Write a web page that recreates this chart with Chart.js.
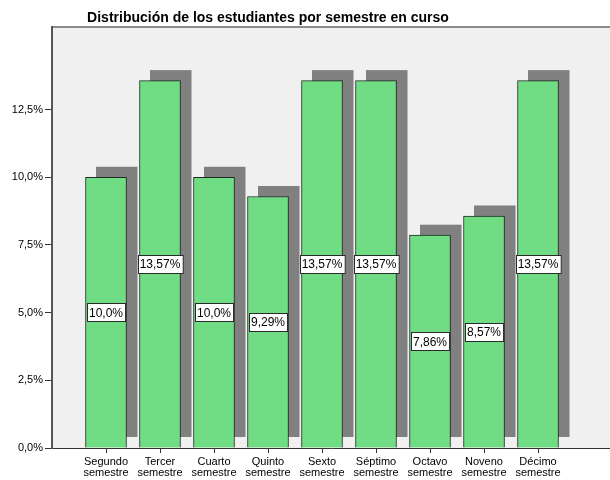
<!DOCTYPE html>
<html>
<head>
<meta charset="utf-8">
<script src="https://cdn.jsdelivr.net/npm/chart.js@4.4.0/dist/chart.umd.min.js"></script>
<style>
  html, body { margin: 0; padding: 0; background: #fff; }
  #wrap { width: 610px; height: 480px; }
</style>
</head>
<body>
<div id="wrap"><canvas id="chart" width="610" height="480"></canvas></div>
<script>
// datos del gráfico
const titulo = 'Distribución de los estudiantes por semestre en curso';
const semestres = [
    ['Segundo', 'semestre'], ['Tercer', 'semestre'], ['Cuarto', 'semestre'],
    ['Quinto', 'semestre'], ['Sexto', 'semestre'], ['Séptimo', 'semestre'],
    ['Octavo', 'semestre'], ['Noveno', 'semestre'], ['Décimo', 'semestre']
];
const porcentajes = [10.0, 13.57, 10.0, 9.29, 13.57, 13.57, 7.86, 8.57, 13.57];
const etiquetas = ['10,0%', '13,57%', '10,0%', '9,29%', '13,57%', '13,57%', '7,86%', '8,57%', '13,57%'];
const ticksY = [0, 2.5, 5, 7.5, 10, 12.5];

const fuente = '"Liberation Sans", Arial, sans-serif';

// fondo gris del área y borde superior
const fondoPlugin = {
    id: 'fondo',
    beforeDraw(chart) {
        const {ctx, chartArea: a} = chart;
        ctx.save();
        ctx.fillStyle = '#f0f0f0';
        ctx.fillRect(a.left, a.top, a.right - a.left, a.bottom - a.top);
        ctx.strokeStyle = '#8a8a8a';
        ctx.lineWidth = 2;
        ctx.beginPath();
        ctx.moveTo(a.left, a.top);
        ctx.lineTo(a.right, a.top);
        ctx.stroke();
        ctx.restore();
    }
};

// sombras grises detrás de las barras
const sombraPlugin = {
    id: 'sombra',
    beforeDatasetsDraw(chart) {
        const ctx = chart.ctx;
        const meta = chart.getDatasetMeta(0);
        ctx.save();
        ctx.fillStyle = '#808080';
        meta.data.forEach((bar) => {
            const w = bar.width;
            ctx.fillRect(bar.x - w / 2 + 10.5, bar.y - 10.5, w + 0.5, bar.base - bar.y);
        });
        ctx.restore();
    }
};

// etiquetas blancas en el centro de cada barra
const etiquetaPlugin = {
    id: 'etiquetas',
    afterDatasetsDraw(chart) {
        const ctx = chart.ctx;
        const meta = chart.getDatasetMeta(0);
        ctx.save();
        ctx.font = '12px ' + fuente;
        ctx.textAlign = 'center';
        ctx.textBaseline = 'middle';
        meta.data.forEach((bar, i) => {
            const txt = etiquetas[i];
            const w = ctx.measureText(txt).width + 4;
            const h = 18;
            const cy = (bar.y + bar.base) / 2;
            const x0 = Math.round(bar.x - w / 2) + 0.5;
            const y0 = Math.round(cy - h / 2) + 0.5;
            ctx.fillStyle = '#ffffff';
            ctx.fillRect(x0, y0, w, h);
            ctx.strokeStyle = '#2a2a2a';
            ctx.lineWidth = 1;
            ctx.strokeRect(x0, y0, w, h);
            ctx.fillStyle = '#000000';
            ctx.fillText(txt, bar.x, cy + 1);
        });
        ctx.restore();
    }
};

// título
const tituloPlugin = {
    id: 'titulo',
    afterDraw(chart) {
        const ctx = chart.ctx;
        ctx.save();
        ctx.font = 'bold 14px ' + fuente;
        ctx.fillStyle = '#000000';
        ctx.textAlign = 'center';
        ctx.textBaseline = 'alphabetic';
        ctx.fillText(titulo, 268, 22);
        ctx.restore();
    }
};

const ctx = document.getElementById('chart');
new Chart(ctx, {
    type: 'bar',
    data: {
        datasets: [{
            data: porcentajes.map((v, i) => ({x: i, y: v})),
            backgroundColor: '#70dc84',
            borderColor: '#1f2a21',
            borderWidth: 1,
            barThickness: 41
        }]
    },
    options: {
        responsive: false,
        animation: false,
        layout: { padding: { top: 27, right: 0, left: 0, bottom: 0 } },
        plugins: {
            legend: { display: false },
            tooltip: { enabled: false },
            title: { display: false }
        },
        scales: {
            x: {
                type: 'linear',
                offset: false,
                min: -1,
                max: 9.333,
                afterBuildTicks: (scale) => {
                    scale.ticks = semestres.map((s, i) => ({value: i}));
                },
                afterFit: (scale) => { scale.height = 32; },
                grid: {
                    offset: false,
                    drawOnChartArea: false,
                    drawTicks: true,
                    tickLength: 5,
                    color: '#333333'
                },
                border: { color: '#333333', width: 1 },
                ticks: {
                    autoSkip: false,
                    maxRotation: 0,
                    padding: 3,
                    color: '#000000',
                    font: { family: fuente, size: 11, lineHeight: 1.0 },
                    callback: (v) => semestres[v] || ''
                }
            },
            y: {
                min: 0,
                max: 15.55,
                afterBuildTicks: (scale) => {
                    scale.ticks = ticksY.map((v) => ({value: v}));
                },
                afterFit: (scale) => { scale.width = 52; },
                grid: {
                    drawOnChartArea: false,
                    drawTicks: true,
                    tickLength: 7,
                    color: '#333333'
                },
                border: { color: '#555555', width: 2 },
                ticks: {
                    padding: 2,
                    color: '#000000',
                    font: { family: fuente, size: 11 },
                    callback: (v) => v.toFixed(1).replace('.', ',') + '%'
                }
            }
        }
    },
    plugins: [fondoPlugin, sombraPlugin, etiquetaPlugin, tituloPlugin]
});
</script>
</body>
</html>
